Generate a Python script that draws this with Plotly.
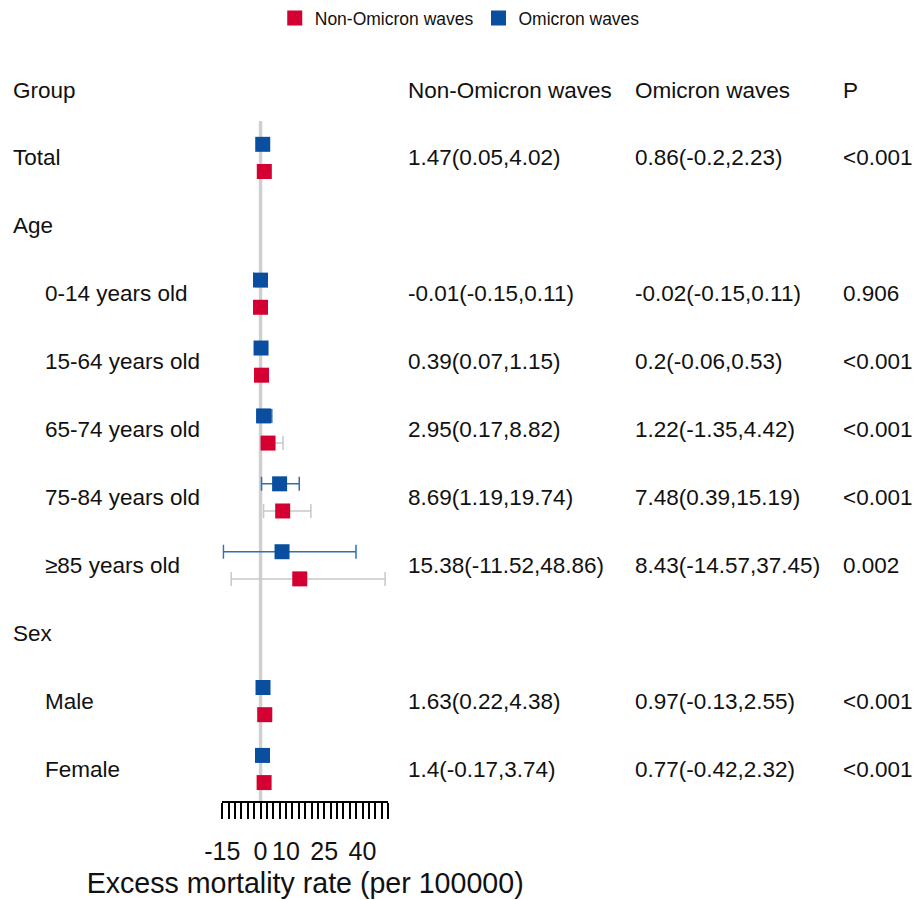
import plotly.graph_objects as go

# ---------------- data ----------------
groups = ["Total", "Age", "0-14 years old", "15-64 years old", "65-74 years old",
          "75-84 years old", "≥85 years old", "Sex", "Male", "Female"]
is_sub = [False, False, True, True, True, True, True, False, True, True]
has_val = [True, False, True, True, True, True, True, False, True, True]

non_est = [1.47, None, -0.01, 0.39, 2.95, 8.69, 15.38, None, 1.63, 1.4]
non_lo = [0.05, None, -0.15, 0.07, 0.17, 1.19, -11.52, None, 0.22, -0.17]
non_hi = [4.02, None, 0.11, 1.15, 8.82, 19.74, 48.86, None, 4.38, 3.74]

omi_est = [0.86, None, -0.02, 0.2, 1.22, 7.48, 8.43, None, 0.97, 0.77]
omi_lo = [-0.2, None, -0.15, -0.06, -1.35, 0.39, -14.57, None, -0.13, -0.42]
omi_hi = [2.23, None, 0.11, 0.53, 4.42, 15.19, 37.45, None, 2.55, 2.32]

p_vals = ["<0.001", "", "0.906", "<0.001", "<0.001", "<0.001", "0.002", "", "<0.001", "<0.001"]

headers = ["Group", "Non-Omicron waves", "Omicron waves", "P"]
tick_vals = [-15, 0, 10, 25, 40]
x_title = "Excess mortality rate (per 100000)"

# ---------------- layout helpers ----------------
W, H = 914, 900
ROW0_PX, ROW_STEP = 90, 67.9
FONT = "Liberation Sans, Arial, sans-serif"
RED, BLUE = "#d50032", "#0a4f9f"
RED_ERR, BLUE_ERR = "#c8c8c8", "#2f6fba"
TXT = 22.5

row_idx = list(range(1, len(groups) + 1))  # header is row 0


def fmt(e, lo, hi):
    def f(v):
        return ("%.2f" % v).rstrip("0").rstrip(".")
    return f"{f(e)}({f(lo)},{f(hi)})"


def px2paper_x(px):
    return px / W


def px2paper_y(py):
    return 1 - py / H


fig = go.Figure()

# Non-Omicron (red) - lower offset
yr, xr, ep, em = [], [], [], []
for i, e, lo, hi in zip(row_idx, non_est, non_lo, non_hi):
    if e is None:
        continue
    yr.append(i + 0.2)
    xr.append(e)
    ep.append(hi - e)
    em.append(e - lo)
fig.add_trace(go.Scatter(
    x=xr, y=yr, mode="markers", name="Non-Omicron waves",
    marker=dict(symbol="square", size=15, color=RED, line=dict(width=0)),
    error_x=dict(type="data", symmetric=False, array=ep, arrayminus=em,
                 color=RED_ERR, thickness=1.5, width=7),
))

yb, xb, bp, bm = [], [], [], []
for i, e, lo, hi in zip(row_idx, omi_est, omi_lo, omi_hi):
    if e is None:
        continue
    yb.append(i - 0.2)
    xb.append(e)
    bp.append(hi - e)
    bm.append(e - lo)
fig.add_trace(go.Scatter(
    x=xb, y=yb, mode="markers", name="Omicron waves",
    marker=dict(symbol="square", size=15, color=BLUE, line=dict(width=0)),
    error_x=dict(type="data", symmetric=False, array=bp, arrayminus=bm,
                 color=BLUE_ERR, thickness=1.5, width=7),
))

# table text
anns = []
col_px = [11, 406, 633, 841]
sub_px = 43
for c, h in zip(col_px, headers):
    anns.append(dict(x=px2paper_x(c), y=0, xref="paper", yref="y", text=h,
                     showarrow=False, xanchor="left", yanchor="middle",
                     font=dict(size=TXT, family=FONT, color="#111")))
for i, g, sub, hv, ne, nl, nh, oe, ol, oh, p in zip(
        row_idx, groups, is_sub, has_val, non_est, non_lo, non_hi,
        omi_est, omi_lo, omi_hi, p_vals):
    anns.append(dict(x=px2paper_x(sub_px if sub else col_px[0]), y=i, xref="paper", yref="y",
                     text=g, showarrow=False, xanchor="left", yanchor="middle",
                     font=dict(size=TXT, family=FONT, color="#111")))
    if hv:
        for c, t in zip(col_px[1:], [fmt(ne, nl, nh), fmt(oe, ol, oh), p]):
            anns.append(dict(x=px2paper_x(c), y=i, xref="paper", yref="y",
                             text=t, showarrow=False, xanchor="left", yanchor="middle",
                             font=dict(size=TXT, family=FONT, color="#111")))

axis_y_px = 802
top_line_px = 121
r_top = -ROW0_PX / ROW_STEP
r_bot = (H - ROW0_PX) / ROW_STEP

fig.update_layout(
    width=W, height=H, autosize=False,
    margin=dict(l=0, r=0, t=0, b=0, pad=0, autoexpand=False),
    plot_bgcolor="white", paper_bgcolor="white",
    font=dict(family=FONT, color="#111"),
    showlegend=True,
    legend=dict(orientation="h", x=0.503, xanchor="center", y=1.0, yanchor="top",
                font=dict(size=17.5, family=FONT), itemwidth=30,
                traceorder="normal"),
    annotations=anns,
    xaxis=dict(
        domain=[px2paper_x(222.3), px2paper_x(388)], automargin=False,
        range=[-15, 50], anchor="free", position=px2paper_y(axis_y_px),
        showgrid=False, zeroline=False, showline=True, linecolor="black", linewidth=1.5,
        tickmode="array", tickvals=tick_vals, ticktext=[str(v) for v in tick_vals],
        ticks="outside", ticklen=16, tickwidth=1.5, tickcolor="black",
        tickfont=dict(size=25, family=FONT, color="#111"),
        ticklabelstandoff=11,
        minor=dict(tick0=-15, dtick=2.5, ticks="outside", ticklen=16,
                   tickwidth=1.5, tickcolor="black", showgrid=False),
        title=dict(text=x_title, font=dict(size=28.6, family=FONT, color="#111"), standoff=8),
    ),
    yaxis=dict(domain=[0, 1], range=[r_bot, r_top], visible=False, automargin=False),
    shapes=[dict(type="line", xref="x", yref="paper", x0=0, x1=0,
                 y0=px2paper_y(axis_y_px), y1=px2paper_y(top_line_px),
                 line=dict(color="#d0d0d0", width=3.5), layer="below")],
)

fig.write_html("out.html", config={"displayModeBar": False},
               post_script="document.body.style.margin='0';document.body.style.overflow='hidden';")
